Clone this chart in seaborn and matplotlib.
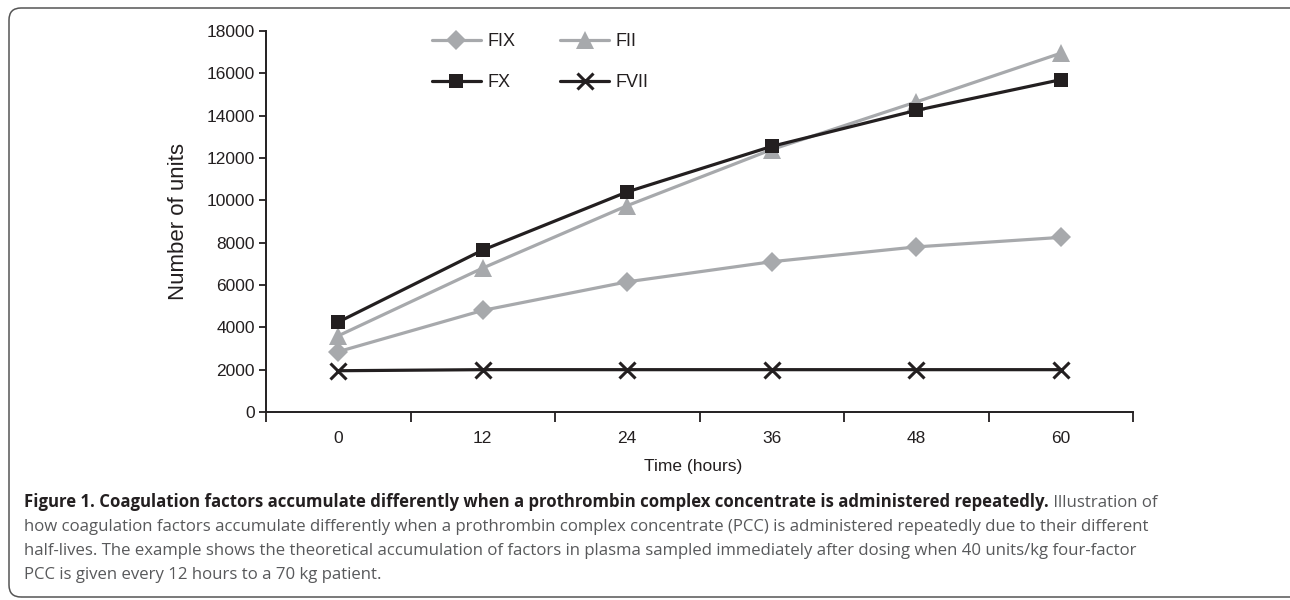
import matplotlib
matplotlib.use("Agg")
import matplotlib.pyplot as plt
import seaborn as sns
from matplotlib.patches import FancyBboxPatch
from matplotlib.transforms import IdentityTransform

# data
hours = [0, 12, 24, 36, 48, 60]
fix = [2850, 4800, 6150, 7100, 7800, 8250]
fii = [3600, 6800, 9750, 12400, 14650, 16950]
fx = [4250, 7650, 10400, 12550, 14250, 15700]
fvii = [1950, 2000, 2000, 2000, 2000, 2000]
y_ticks = [0, 2000, 4000, 6000, 8000, 10000, 12000, 14000, 16000, 18000]

caption_bold = ("Figure 1. Coagulation factors accumulate differently when a "
                "prothrombin complex concentrate is administered repeatedly.")
caption_lines = [
    " Illustration of",
    "how coagulation factors accumulate differently when a prothrombin complex concentrate (PCC) is administered repeatedly due to their different",
    "half-lives. The example shows the theoretical accumulation of factors in plasma sampled immediately after dosing when 40 units/kg four-factor",
    "PCC is given every 12 hours to a 70 kg patient.",
]

GREY = "#a7a9ac"
BLACK = "#231f20"

sns.set_theme(style="ticks")
plt.rcParams["font.family"] = ["Liberation Sans", "DejaVu Sans"]

fig = plt.figure(figsize=(12.9, 6), dpi=100)
ax = fig.add_axes([266 / 1290, 188 / 600, (1133 - 266) / 1290, (412 - 31) / 600])

series = [
    ("FIX", fix, GREY, "D", 10, 0),
    ("FII", fii, GREY, "^", 13, 0),
    ("FX", fx, BLACK, "s", 10, 0),
    ("FVII", fvii, BLACK, "x", 12, 2.2),
]
for name, vals, col, mk, ms, mew in series:
    kw = dict(markeredgewidth=mew, markeredgecolor=col) if mew else dict(markeredgewidth=0)
    sns.lineplot(x=hours, y=vals, ax=ax, color=col, marker=mk, markersize=ms,
                 linewidth=2.3, label=name, **kw)

ax.set_xlim(-6, 66)
ax.set_ylim(0, 18000)
ax.set_yticks(y_ticks)
ax.set_xticks(hours)
ax.set_xticks([h - 6 for h in hours] + [66], minor=True)
ax.tick_params(axis="x", which="major", length=0, pad=14, labelsize=12.5, labelcolor=BLACK)
ax.tick_params(axis="x", which="minor", length=7, width=1.3, color=BLACK, direction="out")
ax.tick_params(axis="y", length=5, width=1.3, color=BLACK, pad=3, labelsize=12.5, labelcolor=BLACK)
sns.despine(ax=ax)
for s in ["left", "bottom"]:
    ax.spines[s].set_color(BLACK)
    ax.spines[s].set_linewidth(1.4)

ax.set_xlabel("Time (hours)", fontsize=12.5, color=BLACK)
ax.xaxis.set_label_coords((693 - 266) / (1133 - 266), -47 / 381)
ax.set_ylabel("Number of units", fontsize=16, color=BLACK, labelpad=13)

handles, labels = ax.get_legend_handles_labels()
order = [0, 2, 1, 3]
ax.legend([handles[i] for i in order], [labels[i] for i in order], ncol=2,
          loc="upper left", bbox_to_anchor=(432 / 1290, 1 - 33 / 600),
          bbox_transform=fig.transFigure, frameon=False, fontsize=13,
          handlelength=2.7, handletextpad=0.35, columnspacing=2.5,
          labelspacing=1.35, borderpad=0, borderaxespad=0, labelcolor=BLACK)

# rounded frame round the whole figure
frame = FancyBboxPatch((9, 3), 1300, 589, boxstyle="round,pad=0,rounding_size=12",
                       transform=IdentityTransform(), fill=False,
                       edgecolor="#555555", linewidth=1.1)
fig.patches.append(frame)

# caption
cap_font = ["Open Sans", "DejaVu Sans"]
cap_size = 12.05
x0 = 24 / 1290
t = fig.text(x0, 1 - 507 / 600, caption_bold, family=cap_font, fontweight="bold",
             fontsize=cap_size, color=BLACK, va="baseline")
fig.canvas.draw()
bb = t.get_window_extent(fig.canvas.get_renderer())
fig.text(bb.x1 / 1290, 1 - 507 / 600, caption_lines[0], family=cap_font,
         fontsize=cap_size, color="#58595b", va="baseline")
for i, line in enumerate(caption_lines[1:]):
    fig.text(x0, 1 - (531 + 24 * i) / 600, line, family=cap_font,
             fontsize=cap_size, color="#58595b", va="baseline")

fig.savefig("out.png", dpi=100)
